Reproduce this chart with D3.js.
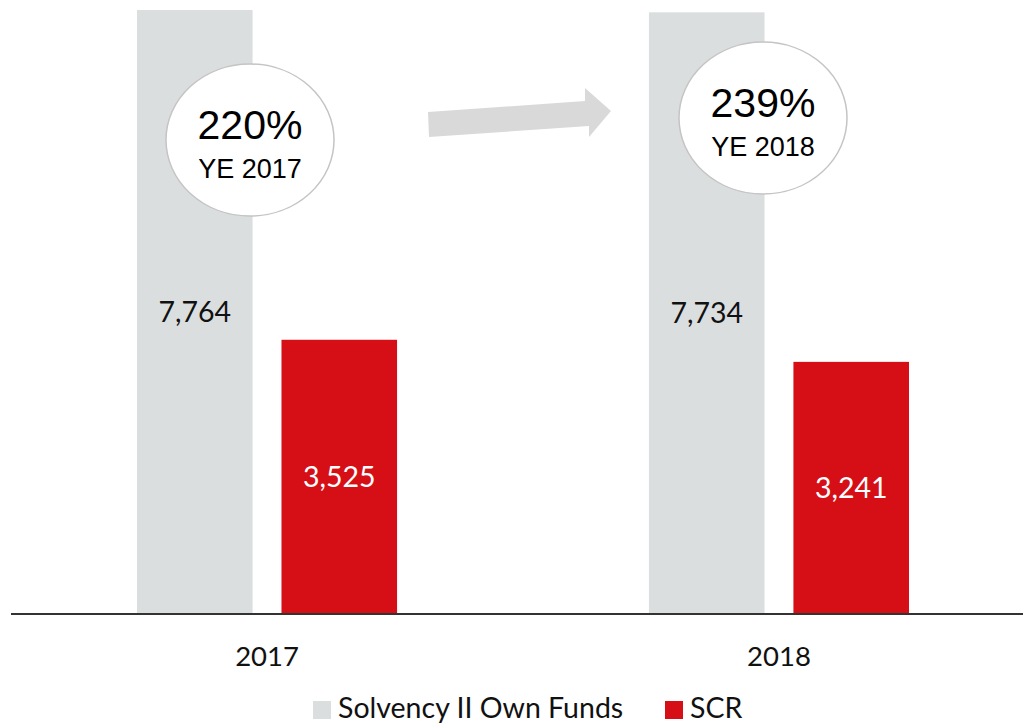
<!DOCTYPE html>
<html>
<head>
<meta charset="utf-8">
<script src="https://d3js.org/d3.v7.min.js"></script>
<style>
  body { margin: 0; background: #fff; }
  svg { display: block; }
</style>
</head>
<body>
<svg width="1023" height="724"></svg>
<script>
const years = ["2017", "2018"];
const seriesNames = ["Solvency II Own Funds", "SCR"];
const ownFunds = [7764, 7734];
const scr = [3525, 3241];
const ratioLabels = ["220%", "239%"];
const ratioSubLabels = ["YE 2017", "YE 2018"];

const colors = ["#dbdedf", "#d60f17"];
const labelColors = ["#111", "#fff"];

let svg = d3.select("svg"),
    width = 1023,
    height = 724,
    baseY = 614;

const rows = years.map((y, i) => ({ year: y, values: [ownFunds[i], scr[i]] }));

let x0 = d3.scaleBand().domain(years).range([137, 909]).paddingInner(0.492);
let x1 = d3.scaleBand().domain(seriesNames).range([0, x0.bandwidth()]).paddingInner(0.2);
let y = d3.scaleLinear().domain([0, 7764]).range([baseY, 10]);

// bars
let groups = svg.selectAll("g.year")
    .data(rows)
    .enter()
    .append("g")
    .attr("class", "year")
    .attr("transform", d => `translate(${x0(d.year)},0)`);

groups.selectAll("rect")
    .data(d => d.values.map((v, i) => ({ name: seriesNames[i], value: v, i: i })))
    .enter()
    .append("rect")
    .attr("x", d => x1(d.name))
    .attr("y", d => y(d.value))
    .attr("width", x1.bandwidth())
    .attr("height", d => baseY - y(d.value))
    .style("fill", d => colors[d.i]);

groups.selectAll("text.val")
    .data(d => d.values.map((v, i) => ({ name: seriesNames[i], value: v, i: i })))
    .enter()
    .append("text")
    .attr("class", "val")
    .attr("x", d => x1(d.name) + x1.bandwidth() / 2)
    .attr("y", d => (y(d.value) + baseY) / 2 + 10)
    .attr("text-anchor", "middle")
    .style("font-family", "Lato, 'Open Sans', sans-serif")
    .style("font-size", "28.5px")
    .style("fill", d => labelColors[d.i])
    .text(d => d3.format(",")(d.value));

// baseline axis
let xAxis = d3.axisBottom(x0).tickSize(0).tickPadding(32);
let axisG = svg.append("g")
    .attr("transform", `translate(0,${baseY})`)
    .call(xAxis);
axisG.select(".domain").remove();
axisG.selectAll("text")
    .attr("x", 0)
    .style("font-family", "Lato, 'Open Sans', sans-serif")
    .style("font-size", "27.5px")
    .style("fill", "#111");
axisG.append("line")
    .attr("x1", 11)
    .attr("x2", width)
    .attr("y1", 0)
    .attr("y2", 0)
    .style("stroke", "#333")
    .style("stroke-width", 2);

// ratio bubbles
const bubbles = [
    { cx: 250, cy: 140, rx: 84, ry: 76 },
    { cx: 763, cy: 118, rx: 84, ry: 76 }
];
bubbles.forEach((b, i) => {
    svg.append("ellipse")
        .attr("cx", b.cx).attr("cy", b.cy)
        .attr("rx", b.rx).attr("ry", b.ry)
        .style("fill", "#fff")
        .style("stroke", "#c4c4c4")
        .style("stroke-width", 1.5);
    svg.append("text")
        .attr("x", b.cx).attr("y", b.cy - 1)
        .attr("text-anchor", "middle")
        .style("font-family", "'Liberation Sans', Arial, sans-serif")
        .style("font-size", "41px")
        .style("fill", "#000")
        .text(ratioLabels[i]);
    svg.append("text")
        .attr("x", b.cx).attr("y", b.cy + 38)
        .attr("text-anchor", "middle")
        .style("font-family", "'Liberation Sans', Arial, sans-serif")
        .style("font-size", "27px")
        .style("fill", "#000")
        .text(ratioSubLabels[i]);
});

// arrow
svg.append("polygon")
    .attr("points", "428,112 585,101 585,88 611,111 589,137 589,126 429,137")
    .style("fill", "#d9d9d9");

// legend
let legend = svg.append("g").attr("transform", "translate(313,701)");
let legendItems = [
    { name: seriesNames[0], x: 0 },
    { name: seriesNames[1], x: 352 }
];
legendItems.forEach((d, i) => {
    legend.append("rect")
        .attr("x", d.x).attr("y", 0)
        .attr("width", 18).attr("height", 18)
        .style("fill", colors[i]);
    legend.append("text")
        .attr("x", d.x + 25).attr("y", 17)
        .style("font-family", "Lato, 'Open Sans', sans-serif")
        .style("font-size", "28.5px")
        .style("fill", "#111")
        .text(d.name);
});
</script>
</body>
</html>
